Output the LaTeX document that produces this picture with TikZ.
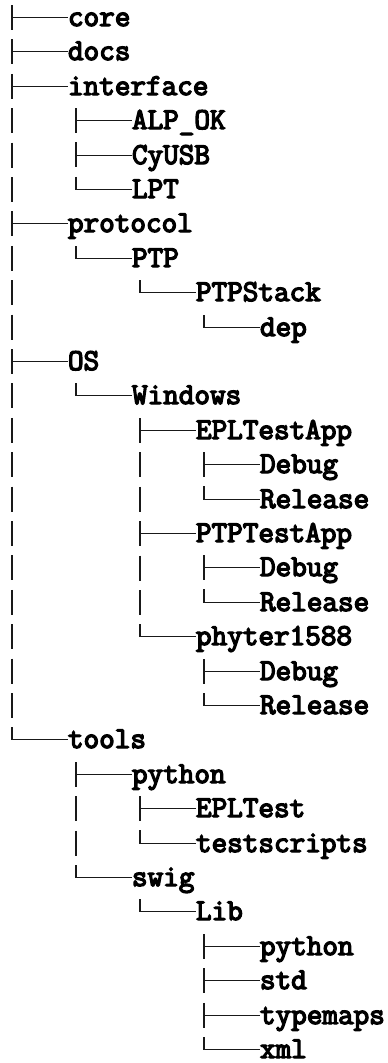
\documentclass[tikz,border=0pt]{standalone}
\usepackage{fontspec}
\newfontfamily\treefont{Latin Modern Mono}[AutoFakeBold=4.5]
\usetikzlibrary{calc}
\tikzset{
  lbl/.style={anchor=base west, inner sep=0pt, outer sep=0pt, font=\treefont\bfseries\fontsize{30.3}{30.3}\selectfont, text=black},
  hline/.style={line width=1.4pt, draw=black!90},
  vline/.style={line width=2pt, draw=black!90, dash pattern=on 25pt off 9.4pt}
}
\newcommand\entry[4]{\node[lbl] (#1) at ({68+64*(#2-1)},{-26-round(34.4*#3)}) {#4};}
\newcommand\branch[1]{\draw[hline] ($(#1.base west)+(-57,8.5)$) -- ($(#1.base west)+(0,8.5)$);}
\newcommand\trunk[2]{\draw[vline] ($(#1.base west)+(-56,21)$) -- ($(#2.base west)+(-56,8.5)$);}
\begin{document}
\begin{tikzpicture}[x=1pt,y=1pt]
\useasboundingbox (0,0) rectangle (388,-1063);
\entry{n0}{1}{0}{core}
\entry{n1}{1}{1}{docs}
\entry{n2}{1}{2}{interface}
\entry{n3}{2}{3}{ALP\_OK}
\entry{n4}{2}{4}{CyUSB}
\entry{n5}{2}{5}{LPT}
\entry{n6}{1}{6}{protocol}
\entry{n7}{2}{7}{PTP}
\entry{n8}{3}{8}{PTPStack}
\entry{n9}{4}{9}{dep}
\entry{n10}{1}{10}{OS}
\entry{n11}{2}{11}{Windows}
\entry{n12}{3}{12}{EPLTestApp}
\entry{n13}{4}{13}{Debug}
\entry{n14}{4}{14}{Release}
\entry{n15}{3}{15}{PTPTestApp}
\entry{n16}{4}{16}{Debug}
\entry{n17}{4}{17}{Release}
\entry{n18}{3}{18}{phyter1588}
\entry{n19}{4}{19}{Debug}
\entry{n20}{4}{20}{Release}
\entry{n21}{1}{21}{tools}
\entry{n22}{2}{22}{python}
\entry{n23}{3}{23}{EPLTest}
\entry{n24}{3}{24}{testscripts}
\entry{n25}{2}{25}{swig}
\entry{n26}{3}{26}{Lib}
\entry{n27}{4}{27}{python}
\entry{n28}{4}{28}{std}
\entry{n29}{4}{29}{typemaps}
\entry{n30}{4}{30}{xml}
% vertical trunks: first child to last child
\trunk{n0}{n21}
\trunk{n3}{n5}
\trunk{n7}{n7}
\trunk{n8}{n8}
\trunk{n9}{n9}
\trunk{n11}{n11}
\trunk{n12}{n18}
\trunk{n13}{n14}
\trunk{n16}{n17}
\trunk{n19}{n20}
\trunk{n22}{n25}
\trunk{n23}{n24}
\trunk{n26}{n26}
\trunk{n27}{n30}
% horizontal branches
\foreach \n in {n0,n1,n2,n3,n4,n5,n6,n7,n8,n9,n10,n11,n12,n13,n14,n15,n16,n17,n18,n19,n20,n21,n22,n23,n24,n25,n26,n27,n28,n29,n30}{\branch{\n}}
\end{tikzpicture}
\end{document}
